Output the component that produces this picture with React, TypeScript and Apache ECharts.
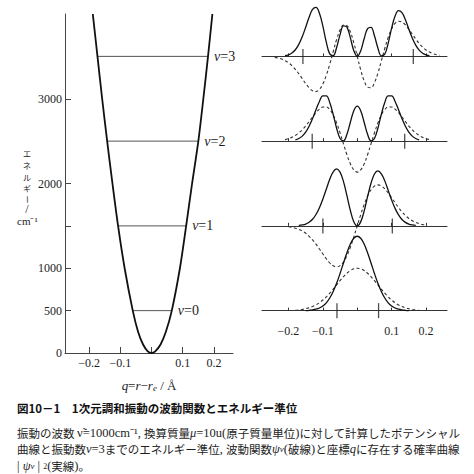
import React, { useEffect, useRef } from "react";
import * as echarts from "echarts";

// ---------- data ----------
const energyTicks = [0, 500, 1000, 1500, 2000, 3000];
const energyLabels = [0, 500, 1000, 2000, 3000];
const qTicks = [-0.2, -0.1, 0, 0.1, 0.2];
const qLabels = [-0.2, -0.1, 0.1, 0.2];

// potential energy curve V(q) / cm^-1
const potentialQ = [-0.188, -0.173, -0.158, -0.142, -0.125, -0.107, -0.086, -0.06, -0.043, -0.027, -0.012, 0, 0.012, 0.029, 0.046, 0.065, 0.091, 0.111, 0.13, 0.15, 0.166, 0.181, 0.195];
const potentialE = [4000, 3500, 3000, 2500, 2000, 1500, 1000, 500, 250, 100, 20, 0, 20, 100, 250, 500, 1000, 1500, 2000, 2500, 3000, 3500, 4000];

// energy levels
const levelNames = ["0", "1", "2", "3"];
const levelEnergies = [500, 1500, 2500, 3500];
const levelLeftQ = [-0.06, -0.107, -0.142, -0.173];
const levelRightQ = [0.065, 0.111, 0.15, 0.181];

// classical turning points marked on the wavefunction baselines
const turnLeftQ = [-0.059, -0.1, -0.131, -0.158];
const turnRightQ = [0.062, 0.102, 0.138, 0.163];

// wavefunctions (dashed) and probability curves (solid), arbitrary units
const waveQ = [-0.24, -0.23, -0.22, -0.21, -0.2, -0.19, -0.18, -0.17, -0.16, -0.15, -0.14, -0.13, -0.12, -0.11, -0.1, -0.09, -0.08, -0.07, -0.06, -0.05, -0.04, -0.03, -0.02, -0.01, 0, 0.01, 0.02, 0.03, 0.04, 0.05, 0.06, 0.07, 0.08, 0.09, 0.1, 0.11, 0.12, 0.13, 0.14, 0.15, 0.16, 0.17, 0.18, 0.19, 0.2, 0.21, 0.22, 0.23, 0.24];

const psi0 = [null, null, null, null, null, null, 0.3, 0.7, 1.2, 1.9, 2.8, 4.1, 5.7, 7.9, 10.6, 13.8, 17.4, 21.5, 25.7, 30.0, 33.9, 37.4, 40.1, 41.8, 42.4, 41.8, 40.1, 37.4, 33.9, 30.0, 25.7, 21.5, 17.4, 13.8, 10.6, 7.9, 5.7, 4.1, 2.8, 1.9, 1.2, 0.7, 0.3, null, null, null, null, null, null];
const prob0 = [null, null, null, null, null, null, null, null, null, 0.0, 0.3, 0.7, 1.4, 2.6, 4.6, 7.8, 12.6, 19.1, 27.4, 37.1, 47.7, 57.9, 66.6, 72.4, 74.4, 72.4, 66.6, 57.9, 47.7, 37.1, 27.4, 19.1, 12.6, 7.8, 4.6, 2.6, 1.4, 0.7, 0.3, 0.0, null, null, null, null, null, null, null, null, null];

const psi1 = [null, null, null, null, -0.9, -1.4, -2.3, -3.5, -5.2, -7.4, -10.4, -14.0, -18.3, -23.1, -28.1, -32.9, -37.1, -39.9, -41.0, -39.8, -36.1, -29.8, -21.3, -11.1, 0, 11.1, 21.3, 29.8, 36.1, 39.8, 41.0, 39.9, 37.1, 32.9, 28.1, 23.1, 18.3, 14.0, 10.4, 7.4, 5.2, 3.5, 2.3, 1.4, 0.9, null, null, null, null];
const prob1 = [null, null, null, null, null, null, null, 0.4, 0.9, 1.8, 3.7, 6.6, 11.4, 18.1, 26.8, 36.7, 46.6, 54.1, 57.0, 53.7, 44.2, 30.2, 15.4, 4.2, 0, 4.0, 14.8, 29.2, 42.6, 51.9, 55.0, 52.1, 45.0, 35.5, 25.8, 17.5, 11.0, 6.4, 3.5, 1.8, 0.9, 0.4, null, null, null, null, null, null, null];

const psi2 = [null, null, null, 1.5, 2.5, 3.8, 5.7, 8.2, 11.3, 15.1, 19.5, 24.1, 28.4, 32.0, 34.1, 34.1, 31.5, 26.2, 18.2, 8.2, -2.8, -13.6, -22.8, -28.8, -31.0, -28.8, -22.8, -13.6, -2.8, 8.2, 18.2, 26.2, 31.5, 34.1, 34.1, 32.0, 28.4, 24.1, 19.5, 15.1, 11.3, 8.2, 5.7, 3.8, 2.5, 1.5, null, null, null];
const prob2 = [null, null, null, null, null, null, 1.2, 2.6, 5.0, 8.9, 14.8, 22.5, 31.4, 39.7, 45.2, 45.2, 38.6, 26.6, 12.9, 2.6, 0.3, 6.8, 18.9, 30.4, 35.0, 30.4, 18.9, 6.8, 0.3, 2.6, 12.9, 26.6, 38.6, 45.2, 45.2, 39.7, 31.4, 22.5, 14.8, 8.9, 5.0, 2.6, 1.2, null, null, null, null, null, null];

const psi3 = [-1.0, -1.7, -2.7, -4.3, -6.4, -9.3, -13.0, -17.4, -22.3, -27.1, -31.4, -34.4, -35.2, -33.0, -27.6, -19.0, -7.9, 4.6, 16.9, 26.4, 31.4, 30.7, 24.4, 13.5, 0, -13.5, -24.4, -30.7, -31.4, -26.4, -16.9, -4.6, 7.9, 19.0, 27.6, 33.0, 35.2, 34.4, 31.4, 27.1, 22.3, 17.4, 13.0, 9.3, 6.4, 4.3, 2.7, 1.7, 1.0];
const prob3 = [null, null, null, 0.7, 1.6, 3.4, 6.6, 12.0, 19.6, 29.1, 39.2, 46.9, 49.0, 43.2, 30.2, 14.2, 2.5, 0.7, 8.9, 21.7, 30.6, 29.3, 18.5, 5.7, 0, 5.4, 17.6, 27.8, 29.0, 20.6, 8.4, 0.6, 2.3, 13.3, 28.2, 40.4, 45.8, 43.8, 36.6, 27.2, 18.3, 11.2, 6.2, 3.2, 1.5, 0.7, null, null, null];

const psiList = [psi0, psi1, psi2, psi3];
const probList = [prob0, prob1, prob2, prob3];

// ---------- layout / style ----------
const W = 474;
const H = 474;
const Q_MIN = -0.277;
const Q_MAX = 0.261;
const E_MAX = 4000;
const LG = { left: 65, top: 14, width: 168, height: 339 };
const RG = { left: 262, width: 185 };
const AMP_MAX = 55; // panel grid spans 0..AMP_MAX above its baseline; negative lobes drawn unclipped
const SERIF = "Liberation Serif";
const JP = "Noto Sans CJK JP";
const INK = "#1e1e1e";

const fmtQ = (v: number) => String(Math.round(v * 10) / 10).replace("-", "\u2212");
const fmtE = (v: number) => String(v);

const pairs = (ys: (number | null)[]) =>
  waveQ.map((q, i) => [q, ys[i]]).filter((p) => p[1] !== null);

function buildOption() {
  const grids: any[] = [
    { left: LG.left, top: LG.top, width: LG.width, height: LG.height, outerBoundsMode: "none" },
  ];
  const xAxes: any[] = [
    {
      type: "value",
      gridIndex: 0,
      min: Q_MIN,
      max: Q_MAX,
      axisLine: { show: true, lineStyle: { color: "#444", width: 1 } },
      axisTick: { show: true, inside: true, length: 6, customValues: qTicks, lineStyle: { color: "#444" } },
      axisLabel: { show: true, customValues: qLabels, formatter: fmtQ, margin: 4, fontFamily: SERIF, fontSize: 12, color: INK },
      splitLine: { show: false },
      name: "{i|q}={i|r}\u2212{i|r}{s|e} / Å",
      nameLocation: "middle",
      nameGap: 26,
      nameTextStyle: {
        fontFamily: SERIF,
        fontSize: 13,
        color: INK,
        rich: {
          i: { fontStyle: "italic", fontFamily: SERIF, fontSize: 13, color: INK },
          s: { fontStyle: "italic", fontFamily: SERIF, fontSize: 9, color: INK, verticalAlign: "bottom" },
        },
      },
    },
  ];
  const yAxes: any[] = [
    {
      type: "value",
      gridIndex: 0,
      min: 0,
      max: E_MAX,
      axisLine: { show: true, onZero: false, lineStyle: { color: "#444", width: 1 } },
      axisTick: { show: true, inside: true, length: 6, customValues: energyTicks, lineStyle: { color: "#444" } },
      axisLabel: { show: true, customValues: energyLabels, formatter: fmtE, margin: 3, fontFamily: SERIF, fontSize: 12, color: INK },
      splitLine: { show: false },
    },
  ];

  const series: any[] = [
    {
      type: "line",
      xAxisIndex: 0,
      yAxisIndex: 0,
      data: potentialQ.map((q, i) => [q, potentialE[i]]),
      smooth: 0.3,
      symbol: "none",
      lineStyle: { color: "#111", width: 1.8 },
      z: 4,
    },
  ];

  levelEnergies.forEach((E, i) => {
    series.push({
      type: "line",
      xAxisIndex: 0,
      yAxisIndex: 0,
      data: [
        [levelLeftQ[i], E],
        [levelRightQ[i], E],
      ],
      symbol: "none",
      lineStyle: { color: "#555", width: 1 },
      endLabel: {
        show: true,
        formatter: `{i|v}={n|${levelNames[i]}}`,
        distance: 6,
        fontFamily: SERIF,
        fontSize: 14,
        color: INK,
        rich: {
          i: { fontStyle: "italic", fontFamily: SERIF, fontSize: 14, color: INK },
          n: { fontFamily: SERIF, fontSize: 14, color: INK },
        },
      },
      z: 3,
    });

    const gi = i + 1;
    const yb = LG.top + LG.height * (1 - E / E_MAX);
    grids.push({
      left: RG.left,
      width: RG.width,
      top: yb - AMP_MAX,
      height: AMP_MAX,
      outerBoundsMode: "none",
    });
    xAxes.push({
      type: "value",
      gridIndex: gi,
      min: Q_MIN,
      max: Q_MAX,
      axisLine: { show: true, onZero: false, lineStyle: { color: "#333", width: 1 } },
      axisTick: { show: true, inside: true, length: 3, customValues: qTicks, lineStyle: { color: "#333" } },
      axisLabel:
        i === 0
          ? { show: true, customValues: qLabels, formatter: fmtQ, margin: 14, fontFamily: SERIF, fontSize: 12, color: INK }
          : { show: false },
      splitLine: { show: false },
    });
    yAxes.push({ type: "value", gridIndex: gi, min: 0, max: AMP_MAX, show: false, splitLine: { show: false } });

    series.push({
      type: "line",
      xAxisIndex: gi,
      yAxisIndex: gi,
      data: pairs(probList[i]),
      smooth: 0.4,
      symbol: "none",
      clip: false,
      lineStyle: { color: "#111", width: 1.3 },
      z: 4,
    });
    series.push({
      type: "line",
      xAxisIndex: gi,
      yAxisIndex: gi,
      data: pairs(psiList[i]),
      smooth: 0.4,
      symbol: "none",
      clip: false,
      lineStyle: { color: "#333", width: 1.1, type: [3, 2.5] },
      z: 3,
    });
    series.push({
      type: "scatter",
      xAxisIndex: gi,
      yAxisIndex: gi,
      data: [
        [turnLeftQ[i], 0],
        [turnRightQ[i], 0],
      ],
      symbol: "rect",
      symbolSize: [1.3, 15],
      itemStyle: { color: "#222" },
      silent: true,
      clip: false,
      z: 5,
    });
  });

  const graphic: any[] = [
    {
      type: "text",
      x: 27,
      y: 147.5,
      style: {
        text: "エ\nネ\nル\nギ",
        fontFamily: JP,
        fontSize: 8,
        lineHeight: 11.8,
        fill: INK,
        align: "center",
        verticalAlign: "top",
      },
    },
    {
      type: "text",
      x: 27,
      y: 199.5,
      rotation: -Math.PI / 2,
      style: { text: "ー", fontFamily: JP, fontSize: 8, lineHeight: 9, fill: INK, align: "center", verticalAlign: "middle" },
    },
    {
      type: "text",
      x: 27,
      y: 209,
      style: { text: "/", fontFamily: SERIF, fontSize: 12, lineHeight: 10, fill: INK, align: "center", verticalAlign: "middle" },
    },
    {
      type: "text",
      x: 17,
      y: 220.5,
      style: { text: "cm⁻¹", fontFamily: SERIF, fontSize: 11, lineHeight: 11, fill: INK, align: "left", verticalAlign: "middle" },
    },
  ];

  const capRich = {
    i: { fontStyle: "italic", fontFamily: SERIF, fontSize: 12.5, fill: INK },
    m: { fontFamily: SERIF, fontSize: 12.5, fill: INK },
    s: { fontStyle: "italic", fontFamily: SERIF, fontSize: 9, fill: INK },
    p: { fontFamily: SERIF, fontSize: 8, fill: INK },
  };
  graphic.push({
    type: "text",
    x: 17,
    y: 408,
    style: {
      text: "図10－1　1次元調和振動の波動関数とエネルギー準位",
      fontFamily: JP,
      fontSize: 11.5,
      fontWeight: "bold",
      fill: "#111",
      align: "left",
      verticalAlign: "middle",
    },
  });
  const capLines = [
    "振動の波数 {m|ν̃=1000cm⁻¹, }換算質量{i|μ}{m|=10u(}原子質量単位{m|)}に対して計算したポテンシャル",
    "曲線と振動数{i|v}{m|=3}までのエネルギー準位{m|, }波動関数{i|ψ}{s|v}{m|(}破線{m|)}と座標{i|q}に存在する確率曲線",
    "{m|| }{i|ψ}{s|v}{m| | }{p|2}{m|(}実線{m|)}。",
  ];
  const capY = [433, 449, 466];
  capLines.forEach((t, k) => {
    graphic.push({
      type: "text",
      x: 17,
      y: capY[k],
      style: {
        text: t,
        fontFamily: JP,
        fontSize: 11.5,
        fill: INK,
        align: "left",
        verticalAlign: "middle",
        rich: capRich,
      },
    });
  });

  return {
    animation: false,
    backgroundColor: "#ffffff",
    grid: grids,
    xAxis: xAxes,
    yAxis: yAxes,
    series,
    graphic,
  };
}

export default function App() {
  const ref = useRef<HTMLDivElement>(null);
  useEffect(() => {
    if (!ref.current) return;
    const chart = echarts.init(ref.current, undefined, { renderer: "svg", width: W, height: H });
    chart.setOption(buildOption() as any);
    return () => chart.dispose();
  }, []);
  return (
    <div
      ref={ref}
      style={{ position: "fixed", left: 0, top: 0, width: W, height: H, background: "#fff" }}
    />
  );
}
